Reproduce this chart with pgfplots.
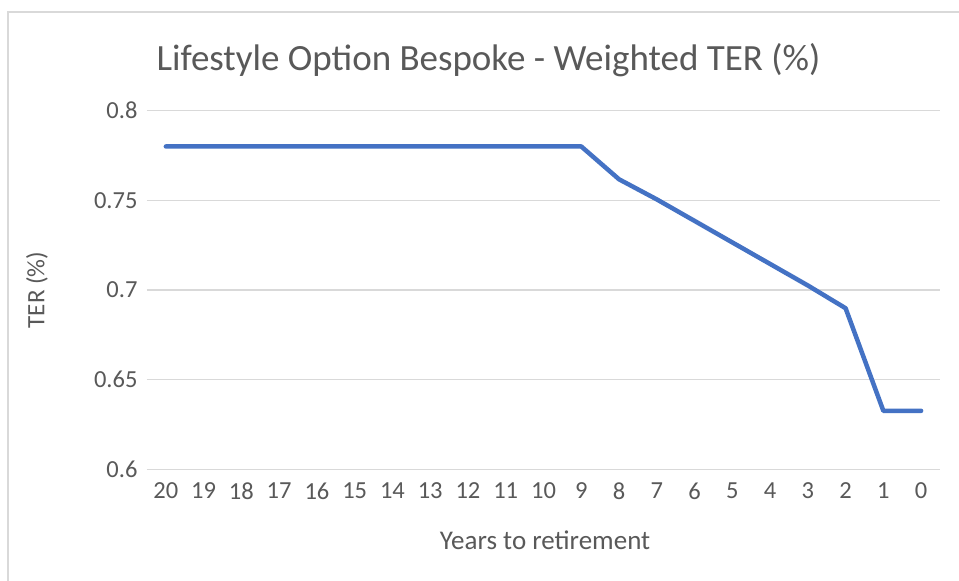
\documentclass[border=0pt]{standalone}
\usepackage{pgfplots}
\pgfplotsset{compat=1.18}
\usepackage{fontspec}
\setmainfont{Carlito}
\definecolor{txtc}{HTML}{595959}
\definecolor{gridc}{HTML}{D9D9D9}
\definecolor{linec}{HTML}{4472C4}
\begin{document}
\begin{tikzpicture}
\useasboundingbox (0,0) rectangle (959pt,581pt);
\fill[white] (0,0) rectangle (959pt,581pt);
\draw[gridc, line width=1.5pt] (8pt,0) -- (8pt,569pt) -- (959pt,569pt);
\begin{axis}[
  at={(147pt,111.7pt)}, anchor=south west,
  scale only axis, width=793pt, height=358.7pt,
  xmin=-0.5, xmax=20.5, ymin=0.6, ymax=0.8,
  xtick={0,...,20},
  xticklabels={20,19,18,17,16,15,14,13,12,11,10,9,8,7,6,5,4,3,2,1,0},
  ytick={0.6,0.65,0.7,0.75,0.8},
  yticklabels={0.6,0.65,0.7,0.75,0.8},
  /pgf/number format/assume math mode=true,
  axis line style={draw=none},
  major tick length=0pt,
  xmajorgrids=false,
  ymajorgrids=true,
  major grid style={draw=gridc, line width=1.5pt},
  tick label style={font=\fontsize{24.5}{28}\selectfont, text=txtc},
  xticklabel style={yshift=-10pt},
  yticklabel style={xshift=-6pt},
  title={Lifestyle Option Bespoke - Weighted TER (\%)},
  title style={at={(0.4306,1.125)}, anchor=center, font=\fontsize{37}{42}\selectfont, text=txtc},
  xlabel={Years to retirement},
  xlabel style={at={(0.502,-0.197)}, anchor=center, font=\fontsize{27}{30}\selectfont, text=txtc},
  ylabel={TER (\%)},
  ylabel style={at={(-0.1387,0.5)}, anchor=center, font=\fontsize{25}{28}\selectfont, text=txtc},
  clip=false,
]
\addplot[linec, line width=4.5pt, line join=round, line cap=round] coordinates {
(0,0.78) (1,0.78) (2,0.78) (3,0.78) (4,0.78) (5,0.78) (6,0.78) (7,0.78) (8,0.78) (9,0.78) (10,0.78) (11,0.78)
(12,0.7617) (13,0.7505) (14,0.7385) (15,0.7265) (16,0.7145) (17,0.7025) (18,0.6898) (19,0.6326) (20,0.6326)
};
\end{axis}
\end{tikzpicture}
\end{document}
